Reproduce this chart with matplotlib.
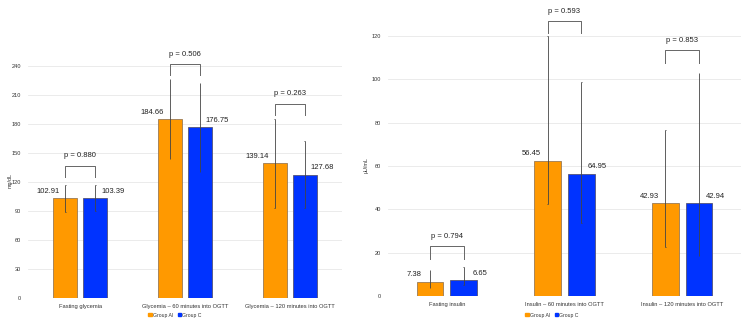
import numpy as np
import matplotlib
matplotlib.use('Agg')
import matplotlib.pyplot as plt
from matplotlib.patches import Patch

plt.rcParams['font.family'] = ['Liberation Sans', 'DejaVu Sans']

# Glycemia panel (mg/dL)
gly_cats = ['Fasting glycemia', 'Glycemia – 60 minutes into OGTT', 'Glycemia – 120 minutes into OGTT']
gly_ai = [102.91, 184.66, 139.14]
gly_c = [103.39, 176.75, 127.68]
gly_ai_lo = [89.2, 143.4, 93.4]
gly_ai_hi = [116.5, 226.5, 185.4]
gly_c_lo = [90.0, 130.6, 93.4]
gly_c_hi = [117.0, 222.0, 162.0]
gly_lab_ai = ['102.91', '184.66', '139.14']
gly_lab_c = ['103.39', '176.75', '127.68']
gly_p = ['p = 0.880', 'p = 0.506', 'p = 0.263']
gly_p_y = [137, 242, 201]

# Insulin panel (µU/mL) - bar heights as drawn, labels as printed
ins_cats = ['Fasting insulin', 'Insulin – 60 minutes into OGTT', 'Insulin – 120 minutes into OGTT']
ins_ai = [6.6, 62.4, 42.9]
ins_c = [7.2, 56.5, 42.9]
ins_ai_lo = [3.8, 42.3, 22.8]
ins_ai_hi = [11.9, 120.0, 76.8]
ins_c_lo = [4.9, 33.8, 18.6]
ins_c_hi = [13.4, 98.9, 102.8]
ins_lab_ai = ['7.38', '56.45', '42.93']
ins_lab_c = ['6.65', '64.95', '42.94']
ins_p = ['p = 0.794', 'p = 0.593', 'p = 0.853']
ins_p_y = [23, 127, 113.5]

ORANGE = '#FF9900'
BLUE = '#0033FF'
W, H = 747, 322

fig = plt.figure(figsize=(W / 100, H / 100), dpi=100)


def panel(rect, ylim, yticks, cats, ai, c, ai_lo, ai_hi, c_lo, c_hi,
          lab_ai, lab_c, ptxt, py, leg, lab_dx, legx, ylabel, ylabx, ylaby):
    x0, y0, x1, ylim_top = rect
    ax = fig.add_axes([x0 / W, (H - y0) / H, (x1 - x0) / W,
                       ylim_top / H])
    x = np.arange(len(cats))
    off, bw = 0.143, 0.229
    ax.bar(x - off, ai, bw, color=ORANGE, edgecolor='#9a7a55', linewidth=0.6, zorder=3)
    ax.bar(x + off, c, bw, color=BLUE, edgecolor='#555577', linewidth=0.6, zorder=3)
    # error bars with tiny caps
    for xs, lo, hi in [(x - off, ai_lo, ai_hi), (x + off, c_lo, c_hi)]:
        ax.vlines(xs, lo, hi, color='#444444', linewidth=0.6, zorder=4)
        ax.hlines(lo, xs - 0.004, xs + 0.004, color='#444444', linewidth=0.6, zorder=4)
        ax.hlines(hi, xs - 0.004, xs + 0.004, color='#444444', linewidth=0.6, zorder=4)
    for i in range(len(cats)):
        ax.annotate(lab_ai[i], (x[i] - lab_dx, ai[i]), xytext=(0, 5),
                    textcoords='offset points', ha='center', va='center',
                    fontsize=5.5, color='#222222', annotation_clip=False)
        ax.annotate(lab_c[i], (x[i] + lab_dx, c[i]), xytext=(0, 5),
                    textcoords='offset points', ha='center', va='center',
                    fontsize=5.5, color='#222222', annotation_clip=False)
        # significance bracket
        xl, xr = x[i] - off, x[i] + off
        ax.plot([xl, xl, xr, xr], [py[i] - leg, py[i], py[i], py[i] - leg],
                color='#666666', linewidth=0.7, clip_on=False, zorder=5)
        ax.annotate(ptxt[i], (x[i], py[i]), xytext=(0, 7), textcoords='offset points',
                    ha='center', va='center', fontsize=5.5, color='#222222',
                    annotation_clip=False)
    ax.set_xlim(-0.5, len(cats) - 0.5)
    ax.set_ylim(*ylim)
    ax.set_yticks(yticks)
    ax.set_xticks(x)
    ax.set_xticklabels(cats, fontsize=4.15, color='#333333')
    ax.tick_params(axis='y', labelsize=4.1, length=0, pad=5, labelcolor='#333333')
    ax.tick_params(axis='x', length=0, pad=4)
    ax.yaxis.grid(True, color='#e8e8e8', linewidth=0.6, zorder=0)
    ax.set_axisbelow(True)
    for s in ax.spines.values():
        s.set_visible(False)
    handles = [Patch(color=ORANGE, label='Group AI'), Patch(color=BLUE, label='Group C')]
    fig.legend(handles=handles, loc='center', bbox_to_anchor=(legx / W, (H - 315) / H),
               ncol=2, frameon=False, fontsize=3.7, handlelength=0.6, handleheight=0.6,
               handletextpad=0.3, columnspacing=0.8, labelcolor='#333333')
    fig.text(ylabx / W, (H - ylaby) / H, ylabel, rotation=90, fontsize=3.9,
             ha='center', va='center', color='#333333')
    return ax


panel((28, 298, 342, 270 * 0.967), (0, 270), np.arange(0, 241, 30), gly_cats,
      gly_ai, gly_c, gly_ai_lo, gly_ai_hi, gly_c_lo, gly_c_hi,
      gly_lab_ai, gly_lab_c, gly_p, gly_p_y, 11.5, 0.31, 175, 'mg/dL', 10, 181)

panel((388, 296, 741, 135 * 2.167), (0, 135), np.arange(0, 121, 20), ins_cats,
      ins_ai, ins_c, ins_ai_lo, ins_ai_hi, ins_c_lo, ins_c_hi,
      ins_lab_ai, ins_lab_c, ins_p, ins_p_y, 5.8, 0.28, 552, 'µU/mL', 366, 165)

fig.savefig('out.png', dpi=100)
